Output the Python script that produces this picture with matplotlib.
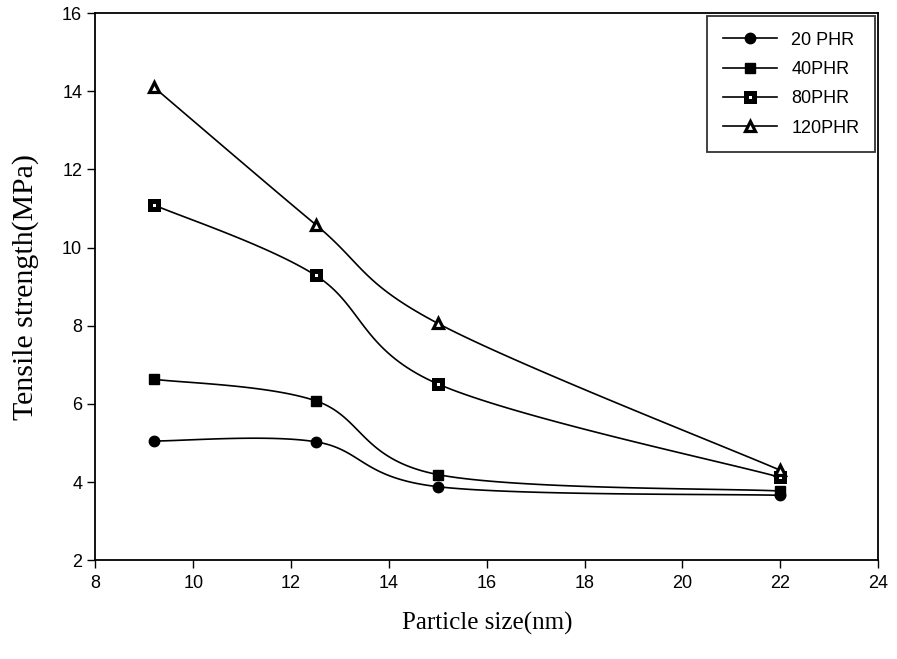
import matplotlib
matplotlib.use("Agg")
import matplotlib.pyplot as plt
import numpy as np

# Tensile strength vs particle size for each filler loading
particle_size = [9.2, 12.5, 15, 22]
phr20 = [5.05, 5.03, 3.88, 3.66]
phr40 = [6.63, 6.08, 4.19, 3.77]
phr80 = [11.09, 9.29, 6.51, 4.12]
phr120 = [14.1, 10.59, 8.06, 4.30]
series_labels = ["20 PHR", "40PHR", "80PHR", "120PHR"]


def smooth_curve(x, y, n=40):
    # cubic Bezier through the points, tangents like a Catmull-Rom spline
    x = np.asarray(x, float)
    y = np.asarray(y, float)
    pts = np.column_stack([x, y])
    m = len(pts)
    out = []
    for i in range(m - 1):
        p0 = pts[max(i - 1, 0)]
        p1 = pts[i]
        p2 = pts[i + 1]
        p3 = pts[min(i + 2, m - 1)]
        c1 = p1 + (p2 - p0) / 6.0
        c2 = p2 - (p3 - p1) / 6.0
        t = np.linspace(0, 1, n)[:, None]
        seg = ((1 - t) ** 3) * p1 + 3 * ((1 - t) ** 2) * t * c1 \
            + 3 * (1 - t) * t ** 2 * c2 + t ** 3 * p2
        out.append(seg if i == 0 else seg[1:])
    out = np.vstack(out)
    return out[:, 0], out[:, 1]


plt.rcParams['font.family'] = ['Liberation Sans', 'DejaVu Sans']
serif = ['Liberation Serif', 'DejaVu Serif']

fig = plt.figure(figsize=(8.97, 6.59), dpi=100)
ax = fig.add_axes([0.1064, 0.150, 0.8726, 0.830])

styles = [
    dict(marker='o', markersize=7.5, markerfacecolor='black', markeredgecolor='black', markeredgewidth=1),
    dict(marker='s', markersize=7.5, markerfacecolor='black', markeredgecolor='black', markeredgewidth=1),
    dict(marker='s', markersize=6.0, markerfacecolor='white', markeredgecolor='black', markeredgewidth=3.6),
    dict(marker='^', markersize=7.0, markerfacecolor='white', markeredgecolor='black', markeredgewidth=2.3),
]

for ys, lab, st in zip([phr20, phr40, phr80, phr120], series_labels, styles):
    sx, sy = smooth_curve(particle_size, ys)
    ax.plot(sx, sy, color='black', linewidth=1.2, zorder=2)
    ax.plot(particle_size, ys, linestyle='none', zorder=3, **st)
    # legend proxy: line plus marker
    ax.plot([], [], color='black', linewidth=1.2, label=lab, **st)

ax.set_xlim(8, 24)
ax.set_ylim(2, 16)
ax.set_xticks(np.arange(8, 25, 2))
ax.set_yticks(np.arange(2, 17, 2))
ax.tick_params(direction='out', length=6, width=1, labelsize=13, color='black')
ax.tick_params(axis='x', pad=5)
for sp in ax.spines.values():
    sp.set_linewidth(1.3)
    sp.set_color('black')

ax.set_xlabel("Particle size(nm)", fontsize=18, family=serif, labelpad=14)
ax.set_ylabel("Tensile strength(MPa)", fontsize=21.5, family=serif, labelpad=17)

leg = ax.legend(loc='upper right', bbox_to_anchor=(0.9955, 0.994), fontsize=13, frameon=True,
                fancybox=False, edgecolor='black', handlelength=3.0, handletextpad=0.8,
                labelspacing=0.68, borderpad=0.85, borderaxespad=0)
leg.get_frame().set_linewidth(1.3)

fig.savefig("out.png", dpi=100, facecolor='white')
